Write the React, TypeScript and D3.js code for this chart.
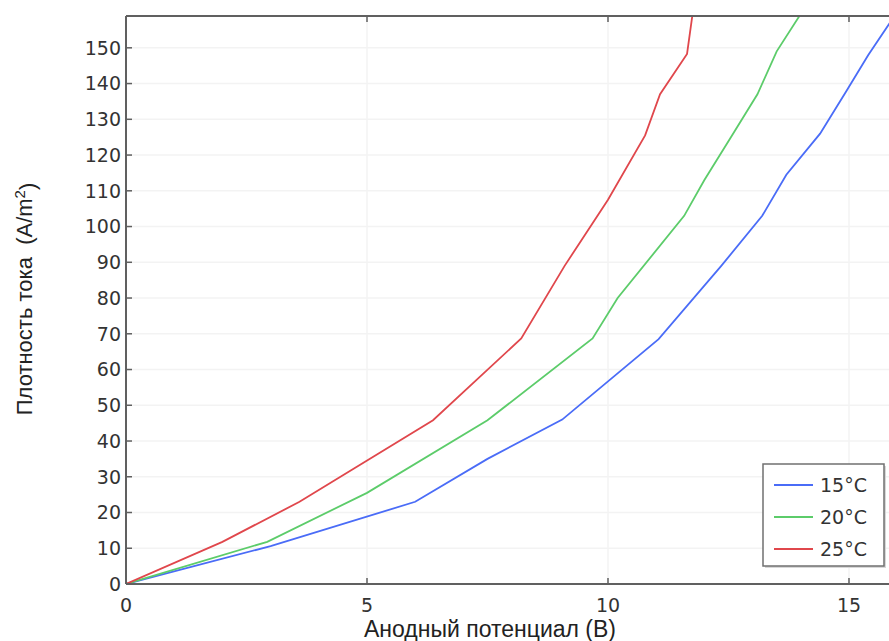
import { useEffect, useRef } from 'react';
import * as d3 from 'd3';

// потенциал (В) и плотность тока (A/m2)
const potential15 = [0, 3.0, 6.0, 7.5, 9.05, 11.05, 12.35, 13.2, 13.7, 14.4, 14.95, 15.4, 15.9];
const current15 = [0, 10.6, 23, 35, 46, 68.5, 89, 103, 114.5, 126, 138, 148, 158];

const potential20 = [0, 2.93, 5.0, 7.5, 9.68, 10.2, 11.58, 12.0, 12.55, 13.1, 13.5, 14.0];
const current20 = [0, 11.8, 25.5, 45.8, 68.7, 80, 103, 113, 125, 137, 149, 159.5];

const potential25 = [0, 2.0, 3.6, 6.37, 8.2, 9.1, 10.0, 10.77, 11.08, 11.64, 11.76];
const current25 = [0, 11.8, 23, 45.8, 68.7, 89, 107.5, 125.5, 137, 148.3, 160];

const seriesNames = ['15°C', '20°C', '25°C'];
const seriesColors = ['#4a6cf7', '#5ccc6a', '#e0474c'];

const xTicks = [0, 5, 10, 15];
const yTicks = d3.range(0, 151, 10);

const W = 889;
const H = 641;

const App = () => {
    const svgRef = useRef(null);

    useEffect(() => {
        const left = 126, right = 889, top = 16, bottom = 584;
        const x = d3.scaleLinear().domain([0, 15.83]).range([left, right]);
        const y = d3.scaleLinear().domain([0, 158.9]).range([bottom, top]);

        const svg = d3.select(svgRef.current);
        svg.selectAll('*').remove();

        svg.append('defs').append('clipPath').attr('id', 'plotclip')
            .append('rect').attr('x', left).attr('y', top)
            .attr('width', right - left).attr('height', bottom - top);

        // сетка
        const grid = svg.append('g');
        grid.selectAll('line.h').data(yTicks.filter(t => t > 0)).enter().append('line')
            .attr('x1', left).attr('x2', right)
            .attr('y1', d => y(d)).attr('y2', d => y(d))
            .attr('stroke', '#f3f3f3').attr('stroke-width', 1.5);
        grid.selectAll('line.v').data(xTicks.filter(t => t > 0)).enter().append('line')
            .attr('y1', top).attr('y2', bottom)
            .attr('x1', d => x(d)).attr('x2', d => x(d))
            .attr('stroke', '#f3f3f3').attr('stroke-width', 1.5);

        // кривые
        const line = d3.line().x(d => x(d[0])).y(d => y(d[1]));
        const data = [
            d3.zip(potential15, current15),
            d3.zip(potential20, current20),
            d3.zip(potential25, current25),
        ];
        svg.append('g').attr('clip-path', 'url(#plotclip)')
            .selectAll('path').data(data).enter().append('path')
            .attr('d', line)
            .attr('fill', 'none')
            .attr('stroke', (d, i) => seriesColors[i])
            .attr('stroke-width', 1.8);

        // оси
        const axisColor = '#606060';
        const ax = svg.append('g');
        ax.append('line').attr('x1', left).attr('x2', left).attr('y1', top).attr('y2', bottom)
            .attr('stroke', axisColor).attr('stroke-width', 2);
        ax.append('line').attr('x1', left).attr('x2', right).attr('y1', bottom).attr('y2', bottom)
            .attr('stroke', axisColor).attr('stroke-width', 2);
        ax.append('line').attr('x1', left).attr('x2', right).attr('y1', top).attr('y2', top)
            .attr('stroke', axisColor).attr('stroke-width', 2);

        ax.selectAll('line.yt').data(yTicks).enter().append('line')
            .attr('x1', left).attr('x2', left + 6)
            .attr('y1', d => y(d)).attr('y2', d => y(d))
            .attr('stroke', axisColor).attr('stroke-width', 1.5);
        ax.selectAll('line.xt').data(xTicks.filter(t => t > 0)).enter().append('line')
            .attr('x1', d => x(d)).attr('x2', d => x(d))
            .attr('y1', bottom).attr('y2', bottom - 6)
            .attr('stroke', axisColor).attr('stroke-width', 1.5);
        ax.selectAll('line.xt2').data(xTicks.filter(t => t > 0)).enter().append('line')
            .attr('x1', d => x(d)).attr('x2', d => x(d))
            .attr('y1', top).attr('y2', top + 6)
            .attr('stroke', axisColor).attr('stroke-width', 1.5);

        const tickFont = '"DejaVu Sans", sans-serif';
        ax.selectAll('text.yl').data(yTicks).enter().append('text')
            .attr('x', left - 5).attr('y', d => y(d))
            .attr('dy', '0.36em')
            .attr('text-anchor', 'end')
            .style('font-family', tickFont).style('font-size', '19px').style('fill', '#333')
            .text(d => d);
        ax.selectAll('text.xl').data(xTicks).enter().append('text')
            .attr('x', d => x(d)).attr('y', bottom + 28)
            .attr('text-anchor', 'middle')
            .style('font-family', tickFont).style('font-size', '19px').style('fill', '#333')
            .text(d => d);

        // подписи осей
        const labelFont = '"Liberation Sans", Arial, sans-serif';
        svg.append('text')
            .attr('x', 490).attr('y', 637)
            .attr('text-anchor', 'middle')
            .style('font-family', labelFont).style('font-size', '23px').style('fill', '#222')
            .text('Анодный потенциал (В)');
        const yl = svg.append('text')
            .attr('transform', 'translate(32, 299) rotate(-90)')
            .attr('text-anchor', 'middle')
            .style('white-space', 'pre')
            .style('font-family', labelFont).style('font-size', '22px').style('fill', '#222');
        yl.append('tspan').text('Плотность тока  (A/m');
        yl.append('tspan').attr('dy', '-0.45em').style('font-size', '15px').text('2');
        yl.append('tspan').attr('dy', '0.45em').text(')');

        // легенда
        const lg = svg.append('g').attr('transform', 'translate(763, 464)');
        lg.append('rect').attr('x', 2).attr('y', 2).attr('width', 121).attr('height', 102)
            .attr('fill', '#d8d8d8');
        lg.append('rect').attr('x', 0).attr('y', 0).attr('width', 121).attr('height', 102)
            .attr('fill', 'white').attr('stroke', '#707070').attr('stroke-width', 1.5);
        seriesNames.forEach((name, i) => {
            const ry = 21 + i * 32;
            lg.append('line').attr('x1', 11).attr('x2', 50).attr('y1', ry).attr('y2', ry)
                .attr('stroke', seriesColors[i]).attr('stroke-width', 2);
            lg.append('text').attr('x', 57).attr('y', ry).attr('dy', '0.36em')
                .style('font-family', tickFont).style('font-size', '19px').style('fill', '#333')
                .text(name);
        });
    }, []);

    return (
        <svg ref={svgRef} width={W} height={H}
            style={{ position: 'absolute', left: 0, top: 0, background: 'white' }} />
    );
};

export default App;
